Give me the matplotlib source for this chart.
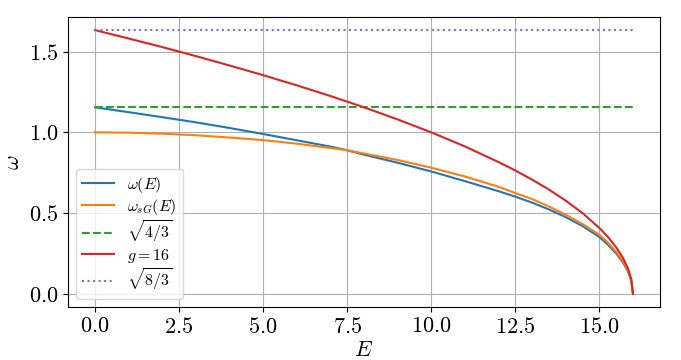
import numpy as np
import matplotlib
matplotlib.use('Agg')
import matplotlib.pyplot as plt
from matplotlib.ticker import MultipleLocator

plt.rcParams['font.family'] = 'serif'
plt.rcParams['font.serif'] = ['cmr10']
plt.rcParams['mathtext.fontset'] = 'cm'
plt.rcParams['axes.formatter.use_mathtext'] = True

# values
E = [0, 1, 2, 3, 4, 5, 6, 7, 7.5, 8, 9, 10, 11, 12, 12.5, 13, 13.5, 14, 14.5, 15,
     15.25, 15.5, 15.7, 15.85, 15.95, 16]
omega = [1.155, 1.125, 1.094, 1.062, 1.027, 0.990, 0.951, 0.912, 0.889, 0.862,
         0.812, 0.758, 0.698, 0.636, 0.602, 0.565, 0.523, 0.475, 0.420, 0.352,
         0.305, 0.250, 0.195, 0.140, 0.080, 0.0]
omega_sg = [1.000, 0.998, 0.992, 0.982, 0.968, 0.952, 0.930, 0.903, 0.889, 0.869,
            0.829, 0.781, 0.727, 0.663, 0.624, 0.587, 0.541, 0.490, 0.432, 0.366,
            0.318, 0.260, 0.203, 0.145, 0.083, 0.0]
omega_g16 = [1.633, 1.581, 1.528, 1.472, 1.414, 1.354, 1.291, 1.225, 1.190, 1.155,
             1.080, 1.000, 0.913, 0.816, 0.764, 0.707, 0.646, 0.577, 0.500, 0.408,
             0.354, 0.289, 0.224, 0.158, 0.091, 0.0]
E_flat = [0, 16]
level_43 = [1.1547, 1.1547]
level_83 = [1.633, 1.633]

fig = plt.figure(figsize=(6.81, 3.6), dpi=100)
ax = fig.add_axes([0.1, 0.147, 0.869, 0.806])

ax.plot(E, omega, color='tab:blue', lw=1.5, label=r'$\omega(E)$')
ax.plot(E, omega_sg, color='tab:orange', lw=1.5, label=r'$\omega_{sG}(E)$')
ax.plot(E_flat, level_43, '--', color='tab:green', lw=1.5, label=r'$\sqrt{4/3}$')
ax.plot(E, omega_g16, color='tab:red', lw=1.5, label=r'$g=16$')
ax.plot(E_flat, level_83, ':', color='tab:purple', lw=1.5, label=r'$\sqrt{8/3}$')

ax.xaxis.set_major_locator(MultipleLocator(2.5))
ax.grid(True, color='#b0b0b0', lw=0.8)
ax.set_xlabel(r'$E$', fontsize=16, labelpad=3)
ax.set_ylabel(r'$\omega$', fontsize=16)
ax.tick_params(labelsize=16)
ax.legend(loc='lower left', fontsize=11.5, labelspacing=0.12)

fig.savefig('out.png', dpi=100)
